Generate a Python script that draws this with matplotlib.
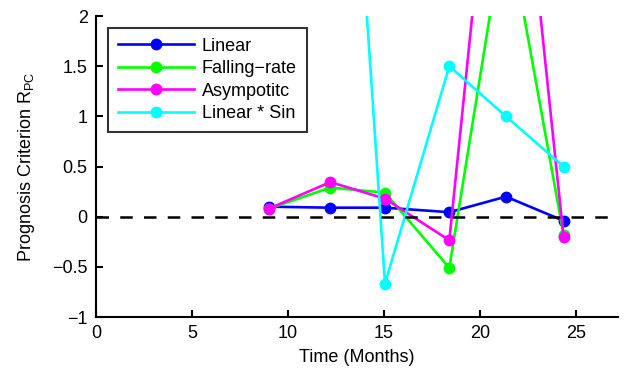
import numpy as np
import matplotlib
matplotlib.use('Agg')
import matplotlib.pyplot as plt

plt.rcParams['font.family'] = ['Liberation Sans', 'DejaVu Sans']
plt.rcParams['mathtext.fontset'] = 'custom'
plt.rcParams['mathtext.rm'] = 'Liberation Sans'
plt.rcParams['mathtext.it'] = 'Liberation Sans'

# time of each prognosis (months)
months = [9.0, 12.2, 15.05, 18.4, 21.35, 24.35]

# prognosis criterion for each degradation model
linear = [0.10, 0.09, 0.09, 0.045, 0.20, -0.04]
falling_rate = [0.08, 0.29, 0.24, -0.51, 3.0, -0.18]
asymptotic = [0.08, 0.345, 0.18, -0.235, 5.3, -0.20]
linear_sin = [np.nan, 7.4, -0.667, 1.50, 1.0, 0.50]

labels = ['Linear', 'Falling\u2212rate', 'Asympotitc', 'Linear * Sin']
colors = ['#0000ff', '#00ff00', '#ff00ff', '#00ffff']

fig = plt.figure(figsize=(6.3, 3.73), dpi=100)
ax = fig.add_axes([0.1524, 0.150, 0.829, 0.807])

for series, lab, c in zip([linear, falling_rate, asymptotic, linear_sin], labels, colors):
    ax.plot(months, series, '-o', color=c, lw=1.9, ms=7.5, label=lab)

ax.plot([0, 27.2], [0, 0], '--', color='black', lw=1.8, dashes=(5, 4.5))

ax.set_xlim(0, 27.2)
ax.set_ylim(-1, 2)
ax.set_xticks([0, 5, 10, 15, 20, 25])
ax.set_yticks([-1, -0.5, 0, 0.5, 1, 1.5, 2])
ax.set_yticklabels(['\u22121', '\u22120.5', '0', '0.5', '1', '1.5', '2'])

for s in ['top', 'right']:
    ax.spines[s].set_visible(False)
for s in ['left', 'bottom']:
    ax.spines[s].set_linewidth(1.5)
ax.tick_params(direction='in', length=5, width=1.5, labelsize=13, pad=6)

ax.set_xlabel('Time (Months)', fontsize=13, labelpad=5)
ax.set_ylabel('Prognosis Criterion R$_{\\mathrm{PC}}$', fontsize=13, labelpad=11)

leg = ax.legend(loc='upper left', fontsize=13, frameon=True, fancybox=False,
                edgecolor='black', borderaxespad=0.65, handlelength=4.2,
                handletextpad=0.45, labelspacing=0.3, borderpad=0.55)
leg.get_frame().set_linewidth(1.5)

fig.savefig('out.png', dpi=100)
